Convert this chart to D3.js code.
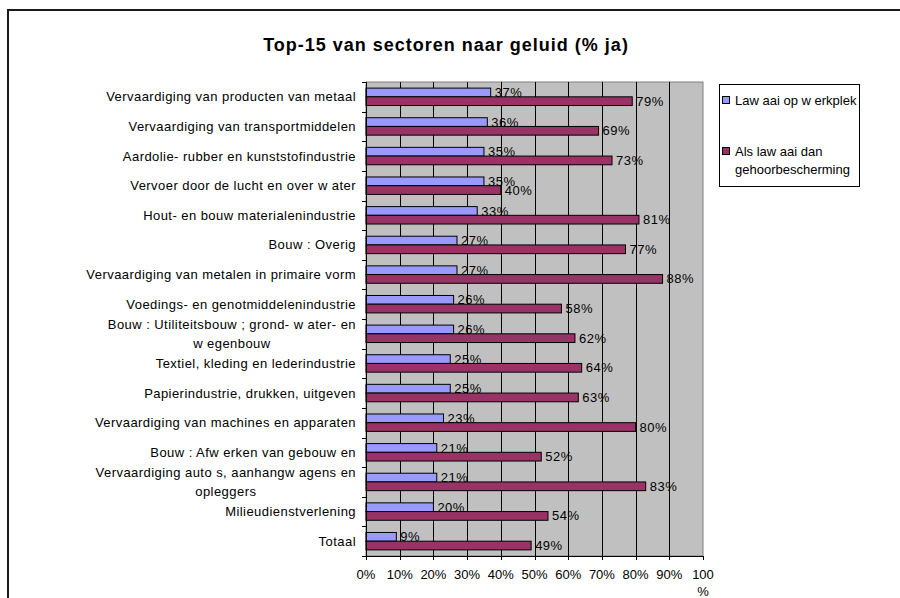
<!DOCTYPE html>
<html>
<head>
    <meta charset="utf-8">
    <title></title>
    <script src="https://d3js.org/d3.v7.min.js"></script>
    <style>
        body{ margin:0; background:#fff; }
        svg text{ font-family:"Liberation Sans", Arial, sans-serif; fill:#000; }
    </style>
</head>
<body>
<div id="vis"></div>
<script>

    // --- data
    var sectors = [
        ["Vervaardiging van producten van metaal"],
        ["Vervaardiging van transportmiddelen"],
        ["Aardolie- rubber en kunststofindustrie"],
        ["Vervoer door de lucht en over w ater"],
        ["Hout- en bouw materialenindustrie"],
        ["Bouw : Overig"],
        ["Vervaardiging van metalen in primaire vorm"],
        ["Voedings- en genotmiddelenindustrie"],
        ["Bouw : Utiliteitsbouw ; grond- w ater- en", "w egenbouw"],
        ["Textiel, kleding en lederindustrie"],
        ["Papierindustrie, drukken, uitgeven"],
        ["Vervaardiging van machines en apparaten"],
        ["Bouw : Afw erken van gebouw en"],
        ["Vervaardiging auto s, aanhangw agens en", "opleggers"],
        ["Milieudienstverlening"],
        ["Totaal"]
    ];
    var lawaai = [37, 36, 35, 35, 33, 27, 27, 26, 26, 25, 25, 23, 21, 21, 20, 9];
    var bescherming = [79, 69, 73, 40, 81, 77, 88, 58, 62, 64, 63, 80, 52, 83, 54, 49];
    var seriesNames = [["Law aai op w erkplek"], ["Als law aai dan", "gehoorbescherming"]];
    var seriesColors = ["#9999FF", "#993366"];
    var tickValues = [0, 10, 20, 30, 40, 50, 60, 70, 80, 90, 100];
    var tickLabels = [["0%"], ["10%"], ["20%"], ["30%"], ["40%"], ["50%"], ["60%"], ["70%"], ["80%"], ["90%"], ["100", "%"]];

    var W = 900, H = 598;
    var plot = {left: 366, right: 703, top: 82, bottom: 556};

    var svg = d3.select("#vis").append("svg")
            .attr("width", W)
            .attr("height", H);

    // outer chart border (runs off the page on the right and bottom)
    svg.append("rect")
            .attr("x", 8).attr("y", 10)
            .attr("width", W + 20).attr("height", H + 20)
            .style("fill", "#fff").style("stroke", "#1a1a1a").style("stroke-width", 2);

    svg.append("text")
            .attr("x", 446).attr("y", 51)
            .attr("text-anchor", "middle")
            .style("font-size", "18px").style("font-weight", "bold")
            .style("letter-spacing", "1px")
            .text("Top-15 van sectoren naar geluid (% ja)");

    var x = d3.scaleLinear().domain([0, 100]).range([plot.left, plot.right]);
    var y = d3.scaleBand().domain(d3.range(sectors.length)).range([plot.top, plot.bottom]).padding(0);
    var ySub = d3.scaleBand().domain([0, 1]).range([0, y.bandwidth()]).paddingInner(0).paddingOuter(0.7);

    // plot background
    svg.append("rect")
            .attr("x", plot.left).attr("y", plot.top)
            .attr("width", plot.right - plot.left).attr("height", plot.bottom - plot.top)
            .style("fill", "#C0C0C0").style("stroke", "#808080").style("stroke-width", 1);

    // vertical gridlines
    svg.append("g").selectAll("line")
            .data(tickValues.slice(1, -1))
            .enter().append("line")
            .attr("x1", function(d){ return Math.round(x(d)) + 0.5; })
            .attr("x2", function(d){ return Math.round(x(d)) + 0.5; })
            .attr("y1", plot.top).attr("y2", plot.bottom)
            .style("stroke", "#000").style("stroke-width", 1);

    // bars
    var data = [lawaai, bescherming];
    var rows = svg.append("g").selectAll("g.row")
            .data(sectors.map(function(s, i){ return i; }))
            .enter().append("g")
            .attr("class", "row")
            .attr("transform", function(i){ return "translate(0," + y(i) + ")"; });

    [0, 1].forEach(function(s){
        rows.append("rect")
                .attr("x", x(0))
                .attr("y", ySub(s))
                .attr("width", function(i){ return x(data[s][i]) - x(0); })
                .attr("height", ySub.bandwidth())
                .style("fill", seriesColors[s])
                .style("stroke", "#000").style("stroke-width", 1);

        rows.append("text")
                .attr("x", function(i){ return x(data[s][i]) + 4; })
                .attr("y", ySub(s) + ySub.bandwidth() / 2)
                .attr("dy", "0.35em")
                .style("font-size", "13px")
                .style("letter-spacing", "0.5px")
                .text(function(i){ return data[s][i] + "%"; });
    });

    // axes lines + ticks
    var axes = svg.append("g").style("stroke", "#000").style("stroke-width", 1);
    axes.append("line")
            .attr("x1", plot.left + 0.5).attr("x2", plot.left + 0.5)
            .attr("y1", plot.top).attr("y2", plot.bottom + 4);
    axes.append("line")
            .attr("x1", plot.left - 4).attr("x2", plot.right)
            .attr("y1", plot.bottom + 0.5).attr("y2", plot.bottom + 0.5);
    axes.selectAll("line.ytick")
            .data(d3.range(sectors.length))
            .enter().append("line")
            .attr("class", "ytick")
            .attr("x1", plot.left - 4).attr("x2", plot.left)
            .attr("y1", function(i){ return Math.round(y(i)) + 0.5; })
            .attr("y2", function(i){ return Math.round(y(i)) + 0.5; });
    axes.selectAll("line.xtick")
            .data(tickValues)
            .enter().append("line")
            .attr("class", "xtick")
            .attr("x1", function(d){ return Math.round(x(d)) + 0.5; })
            .attr("x2", function(d){ return Math.round(x(d)) + 0.5; })
            .attr("y1", plot.bottom).attr("y2", plot.bottom + 4);

    // x tick labels
    var xl = svg.append("g").selectAll("text")
            .data(tickValues)
            .enter().append("text")
            .attr("x", function(d){ return x(d); })
            .attr("y", plot.bottom + 23)
            .attr("text-anchor", "middle")
            .style("font-size", "13px");
    xl.each(function(d, i){
        var t = d3.select(this);
        tickLabels[i].forEach(function(line, k){
            t.append("tspan").attr("x", x(d)).attr("dy", k ? 17 : 0).text(line);
        });
    });

    // category labels
    var cl = svg.append("g").selectAll("text")
            .data(sectors)
            .enter().append("text")
            .attr("text-anchor", "end")
            .style("font-size", "13px")
            .style("letter-spacing", "0.45px");
    cl.each(function(lines, i){
        var t = d3.select(this);
        var cy = y(i) + y.bandwidth() / 2;
        var lh = 19;
        if (lines.length === 1) {
            t.append("tspan").attr("x", plot.left - 10).attr("y", cy).attr("dy", "0.35em").text(lines[0]);
        } else {
            // Excel centres the wrapped lines under each other
            t.attr("text-anchor", "middle");
            var first = t.append("tspan").attr("y", cy - lh / 2).attr("dy", "0.35em").text(lines[0]);
            var w = first.node().getComputedTextLength();
            var mid = plot.left - 10 - w / 2;
            first.attr("x", mid);
            t.append("tspan").attr("x", mid).attr("y", cy + lh / 2).attr("dy", "0.35em").text(lines[1]);
        }
    });

    // legend
    var legend = svg.append("g");
    legend.append("rect")
            .attr("x", 719.5).attr("y", 84.5)
            .attr("width", 140).attr("height", 102)
            .style("fill", "#fff").style("stroke", "#000").style("stroke-width", 1);
    var legY = [100, 151];
    seriesNames.forEach(function(lines, s){
        legend.append("rect")
                .attr("x", 722.5).attr("y", legY[s] - 3.5)
                .attr("width", 7).attr("height", 7)
                .style("fill", seriesColors[s]).style("stroke", "#000");
        lines.forEach(function(line, k){
            legend.append("text")
                    .attr("x", 735).attr("y", legY[s] + k * 18)
                    .attr("dy", "0.35em")
                    .style("font-size", "13px")
                    .text(line);
        });
    });

</script>
</body>
</html>
